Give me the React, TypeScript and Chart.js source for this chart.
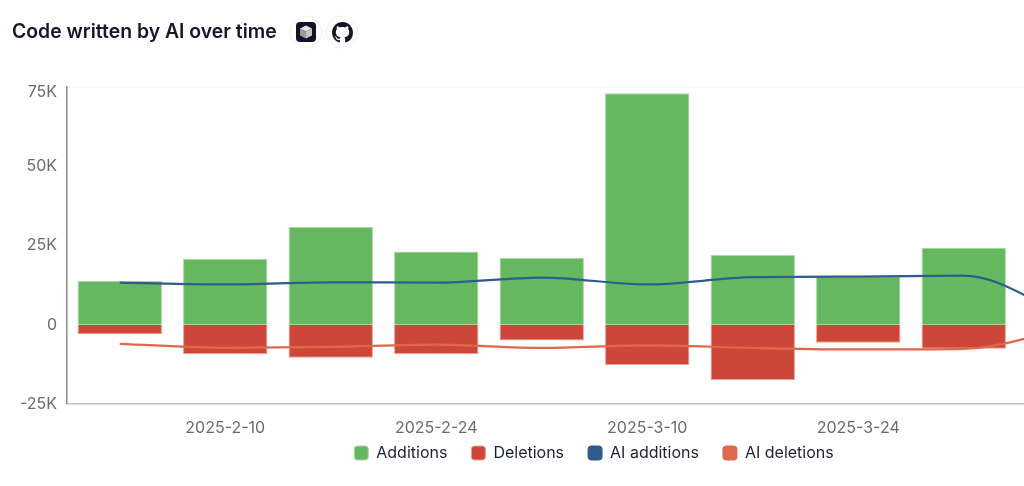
import React, { useEffect, useRef } from 'react';
import { Chart, registerables } from 'chart.js';

Chart.register(...registerables);

const weeks = ['2025-2-3', '2025-2-10', '2025-2-17', '2025-2-24', '2025-3-3', '2025-3-10', '2025-3-17', '2025-3-24', '2025-3-31', '2025-4-7'];
const additions = [13800, 20800, 30800, 23100, 21100, 73000, 22000, 15300, 24300, 6000];
const deletions = [-3000, -9200, -10400, -9200, -5000, -12700, -17400, -5700, -7600, -2000];
const aiAdditions = [13300, 12700, 13400, 13300, 14900, 12700, 15000, 15200, 15500, 2500];
const aiDeletions = [-6000, -7300, -7000, -6300, -7300, -6500, -7300, -7800, -7600, -1000];
const yTicks = [-25000, 0, 25000, 50000, 75000];

const FONT = 'Inter, sans-serif';

// the legend is centred on the whole canvas and sits closer to the axis than its padding allows
const nudgeLegend = {
    id: 'nudgeLegend',
    afterLayout(chart: any) {
        const legend = chart.legend;
        legend.top = 421;
        legend.bottom = legend.top + legend.height;
        legend.left += 33;
        legend.right += 33;
    },
};

const App: React.FC = () => {
    const canvasRef = useRef<HTMLCanvasElement>(null);

    useEffect(() => {
        if (!canvasRef.current) return;

        const chart = new Chart(canvasRef.current, {
            type: 'bar',
            plugins: [nudgeLegend],
            data: {
                labels: weeks,
                datasets: [
                    { label: 'Additions', data: additions, stack: 'code', order: 1, backgroundColor: '#66b860', borderColor: '#a8d9a4', borderWidth: { top: 1, left: 1, right: 1, bottom: 0 }, borderSkipped: false, inflateAmount: 0, barPercentage: 0.8, categoryPercentage: 1 },
                    { label: 'Deletions', data: deletions, stack: 'code', order: 1, backgroundColor: '#cc463a', borderColor: '#eb9f95', borderWidth: { top: 0, left: 1, right: 1, bottom: 1 }, borderSkipped: false, inflateAmount: 0, barPercentage: 0.8, categoryPercentage: 1 },
                    { type: 'line', label: 'AI additions', data: aiAdditions, order: 0, borderColor: '#2f5c8a', backgroundColor: '#2f5c8a', borderWidth: 2.25, pointRadius: 0, cubicInterpolationMode: 'monotone' },
                    { type: 'line', label: 'AI deletions', data: aiDeletions, order: 0, borderColor: '#e0694c', backgroundColor: '#e0694c', borderWidth: 2.25, pointRadius: 0, cubicInterpolationMode: 'monotone' },
                ],
            } as any,
            options: {
                responsive: false,
                animation: false,
                layout: { padding: { top: 87, right: 66, bottom: 0, left: 0 } },
                plugins: {
                    tooltip: { enabled: false },
                    title: { display: false },
                    legend: {
                        position: 'bottom',
                        labels: {
                            boxWidth: 14,
                            boxHeight: 14,
                            useBorderRadius: true,
                            borderRadius: 3,
                            padding: 24,
                            color: '#1a2233',
                            font: { family: FONT, size: 16 },
                            sort: (a, b) => (a.datasetIndex ?? 0) - (b.datasetIndex ?? 0),
                            generateLabels: (c) => Chart.defaults.plugins.legend.labels.generateLabels(c).map(item => ({ ...item, lineWidth: 1 })),
                        },
                    },
                },
                scales: {
                    x: {
                        // whatever the legend leaves, the plot has to end on a whole pixel
                        afterFit: (scale) => { scale.height = 82 - (scale.chart.legend?.height ?? 51); },
                        grid: { display: false },
                        border: { color: '#bdbdbd', width: 1.5 },
                        ticks: {
                            autoSkip: false,
                            maxRotation: 0,
                            padding: 7,
                            color: '#6b6b6b',
                            font: { family: FONT, size: 16 },
                            callback: (_v, i) => (i % 2 === 1 ? weeks[i] : ''),
                        },
                    },
                    y: {
                        min: -25000,
                        max: 75000,
                        afterFit: (scale) => { scale.width = 67; },
                        afterBuildTicks: (scale) => { scale.ticks = yTicks.map(value => ({ value })); },
                        grid: {
                            drawTicks: false,
                            color: '#f4f4f4',
                            // zero width elsewhere, a grid line at 0 would open a gap between the stacked bars
                            lineWidth: (ctx) => (ctx.tick?.value === 75000 ? 1 : 0),
                        },
                        border: { color: '#8a8a8a', width: 1.5 },
                        ticks: {
                            padding: 10,
                            color: '#6b6b6b',
                            // top label sits a little below its tick
                            font: (ctx) => ({ family: FONT, size: 16, lineHeight: ctx.tick?.value === 75000 ? 0.625 : 1.2 }),
                            callback: (v) => {
                                if (v === 0) return '0';
                                const text = `${Number(v) / 1000}K`;
                                return v === 75000 ? ['', text] : text;
                            },
                        },
                    },
                },
            },
        });

        return () => chart.destroy();
    }, []);

    const badge: React.CSSProperties = {
        position: 'absolute', top: 17, width: 30, height: 30, borderRadius: '50%', background: '#fff',
        boxShadow: '0 0 3px rgba(0,0,0,0.12)', display: 'flex', alignItems: 'center', justifyContent: 'center',
    };

    return (
        <div style={{ position: 'absolute', left: 0, top: 0, width: 1024, height: 486, overflow: 'hidden', background: '#fff' }}>
            <canvas ref={canvasRef} width={1188} height={486} style={{ position: 'absolute', left: 0, top: 0 }} />
            <div style={{ position: 'absolute', left: 12, top: 20, fontFamily: FONT, fontWeight: 600, fontSize: 19.4, lineHeight: '22px', color: '#111827' }}>
                Code written by AI over time
            </div>
            <div style={{ ...badge, left: 291 }}>
                <svg width="20" height="20" viewBox="0 0 20 20">
                    <rect width="20" height="20" rx="4" fill="#0f1326" />
                    <path d="M10 3.5 L16 6.5 L10 9.5 L4 6.5 Z" fill="#e6e6e6" />
                    <path d="M4 6.5 L10 9.5 L10 16.5 L4 13.5 Z" fill="#9a9a9a" />
                    <path d="M16 6.5 L10 9.5 L10 16.5 L16 13.5 Z" fill="#c4c4c4" />
                </svg>
            </div>
            <div style={{ ...badge, left: 327 }}>
                <svg width="21" height="21" viewBox="0 0 16 16">
                    <path fill="#111827" d="M8 0C3.58 0 0 3.58 0 8c0 3.54 2.29 6.53 5.47 7.59.4.07.55-.17.55-.38 0-.19-.01-.82-.01-1.49-2.01.37-2.53-.49-2.69-.94-.09-.23-.48-.94-.82-1.13-.28-.15-.68-.52-.01-.53.63-.01 1.08.58 1.23.82.72 1.21 1.87.87 2.33.66.07-.52.28-.87.51-1.07-1.78-.2-3.64-.89-3.64-3.95 0-.87.31-1.59.82-2.15-.08-.2-.36-1.02.08-2.12 0 0 .67-.21 2.2.82.64-.18 1.32-.27 2-.27s1.36.09 2 .27c1.53-1.04 2.2-.82 2.2-.82.44 1.1.16 1.92.08 2.12.51.56.82 1.27.82 2.15 0 3.07-1.87 3.75-3.65 3.95.29.25.54.73.54 1.48 0 1.07-.01 1.93-.01 2.2 0 .21.15.46.55.38A8.01 8.01 0 0 0 16 8c0-4.42-3.58-8-8-8z" />
                </svg>
            </div>
        </div>
    );
};

export default App;
